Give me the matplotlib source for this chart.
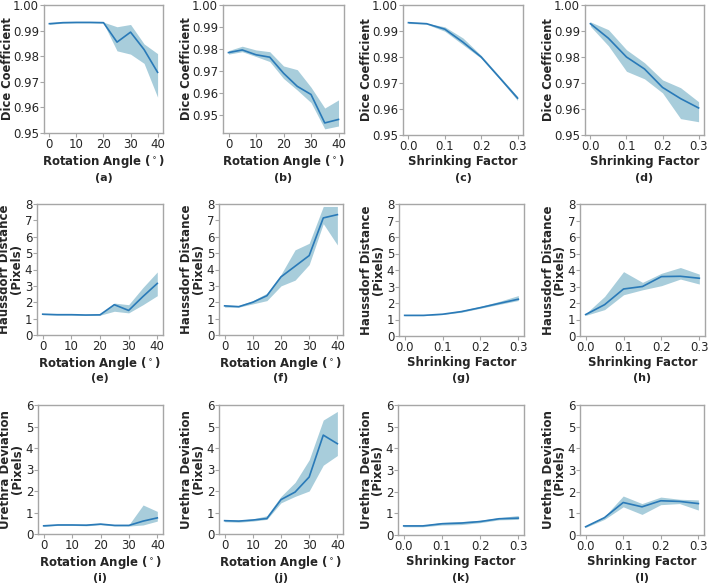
import matplotlib.pyplot as plt
import numpy as np

# ---- data ----
angles = [0, 5, 10, 15, 20, 25, 30, 35, 40]
shrink = [0.0, 0.05, 0.1, 0.15, 0.2, 0.25, 0.3]

# Dice coefficient
dice_rot_a = [0.9927, 0.9931, 0.9932, 0.9932, 0.9931, 0.9855, 0.9894, 0.9826, 0.9737]
dice_rot_a_lo = [0.9924, 0.9929, 0.9930, 0.9930, 0.9929, 0.9821, 0.9808, 0.9772, 0.9640]
dice_rot_a_hi = [0.9931, 0.9933, 0.9934, 0.9934, 0.9933, 0.9915, 0.9924, 0.9848, 0.9810]

dice_rot_b = [0.9783, 0.9795, 0.9773, 0.9762, 0.9689, 0.9629, 0.9592, 0.9462, 0.9478]
dice_rot_b_lo = [0.9776, 0.9787, 0.9765, 0.9742, 0.9665, 0.9612, 0.9555, 0.9435, 0.9448]
dice_rot_b_hi = [0.9792, 0.9812, 0.9795, 0.9787, 0.9722, 0.9705, 0.9625, 0.9530, 0.9567]

dice_shr_c = [0.9932, 0.9928, 0.9907, 0.9857, 0.9800, 0.9721, 0.9642]
dice_shr_c_lo = [0.9929, 0.9926, 0.9899, 0.9847, 0.9795, 0.9717, 0.9633]
dice_shr_c_hi = [0.9934, 0.9930, 0.9916, 0.9873, 0.9806, 0.9727, 0.9648]

dice_shr_d = [0.9928, 0.9872, 0.9800, 0.9754, 0.9683, 0.9640, 0.9604]
dice_shr_d_lo = [0.9918, 0.9843, 0.9745, 0.9716, 0.9662, 0.9563, 0.9551]
dice_shr_d_hi = [0.9935, 0.9905, 0.9828, 0.9778, 0.9712, 0.9682, 0.9628]

# Haussdorf distance
hd_rot_e = [1.27, 1.24, 1.24, 1.22, 1.23, 1.85, 1.50, 2.35, 3.15]
hd_rot_e_lo = [1.24, 1.22, 1.22, 1.20, 1.21, 1.45, 1.35, 1.85, 2.40]
hd_rot_e_hi = [1.30, 1.27, 1.26, 1.25, 1.25, 1.95, 1.85, 2.90, 3.85]

hd_rot_f = [1.78, 1.73, 2.00, 2.40, 3.55, 4.20, 4.85, 7.15, 7.35]
hd_rot_f_lo = [1.70, 1.70, 1.90, 2.10, 3.00, 3.35, 4.30, 6.80, 5.50]
hd_rot_f_hi = [1.82, 1.80, 2.10, 2.55, 3.70, 5.20, 5.60, 7.85, 7.85]

hd_shr_g = [1.25, 1.25, 1.32, 1.48, 1.72, 1.98, 2.23]
hd_shr_g_lo = [1.23, 1.23, 1.30, 1.44, 1.68, 1.92, 2.15]
hd_shr_g_hi = [1.27, 1.27, 1.35, 1.55, 1.80, 2.10, 2.45]

hd_shr_h = [1.30, 1.90, 2.85, 3.00, 3.60, 3.62, 3.50]
hd_shr_h_lo = [1.25, 1.60, 2.50, 2.80, 3.05, 3.45, 3.15]
hd_shr_h_hi = [1.35, 2.40, 3.90, 3.25, 3.80, 4.15, 3.75]

# Urethra deviation
ud_rot_i = [0.38, 0.42, 0.42, 0.41, 0.46, 0.40, 0.40, 0.60, 0.75]
ud_rot_i_lo = [0.35, 0.40, 0.40, 0.38, 0.43, 0.37, 0.37, 0.42, 0.60]
ud_rot_i_hi = [0.42, 0.45, 0.45, 0.45, 0.50, 0.43, 0.43, 1.35, 1.05]

ud_rot_j = [0.62, 0.60, 0.65, 0.72, 1.60, 1.95, 2.65, 4.60, 4.20]
ud_rot_j_lo = [0.57, 0.55, 0.60, 0.68, 1.45, 1.75, 2.00, 3.20, 3.65]
ud_rot_j_hi = [0.67, 0.65, 0.70, 0.85, 1.75, 2.40, 3.45, 5.30, 5.70]

ud_shr_k = [0.42, 0.42, 0.52, 0.55, 0.62, 0.75, 0.78]
ud_shr_k_lo = [0.38, 0.38, 0.46, 0.48, 0.57, 0.70, 0.72]
ud_shr_k_hi = [0.45, 0.45, 0.58, 0.62, 0.68, 0.80, 0.90]

ud_shr_l = [0.38, 0.80, 1.50, 1.30, 1.58, 1.55, 1.45]
ud_shr_l_lo = [0.35, 0.72, 1.30, 0.95, 1.40, 1.45, 1.15]
ud_shr_l_hi = [0.42, 0.85, 1.80, 1.45, 1.75, 1.65, 1.62]

captions = ['(a)', '(b)', '(c)', '(d)', '(e)', '(f)',
            '(g)', '(h)', '(i)', '(j)', '(k)', '(l)']

panels = [
    (angles, dice_rot_a, dice_rot_a_lo, dice_rot_a_hi),
    (angles, dice_rot_b, dice_rot_b_lo, dice_rot_b_hi),
    (shrink, dice_shr_c, dice_shr_c_lo, dice_shr_c_hi),
    (shrink, dice_shr_d, dice_shr_d_lo, dice_shr_d_hi),
    (angles, hd_rot_e, hd_rot_e_lo, hd_rot_e_hi),
    (angles, hd_rot_f, hd_rot_f_lo, hd_rot_f_hi),
    (shrink, hd_shr_g, hd_shr_g_lo, hd_shr_g_hi),
    (shrink, hd_shr_h, hd_shr_h_lo, hd_shr_h_hi),
    (angles, ud_rot_i, ud_rot_i_lo, ud_rot_i_hi),
    (angles, ud_rot_j, ud_rot_j_lo, ud_rot_j_hi),
    (shrink, ud_shr_k, ud_shr_k_lo, ud_shr_k_hi),
    (shrink, ud_shr_l, ud_shr_l_lo, ud_shr_l_hi),
]

# axes boxes in pixels: left, right, top, bottom
W, H = 709, 584
boxes = [
    (44, 163, 5, 133), (223, 344, 5, 133), (403, 523, 5, 135), (585, 704, 5, 135),
    (37, 163, 204, 335), (219, 343, 204, 335), (399, 524, 204, 336), (580, 705, 204, 336),
    (38, 163, 405, 534), (219, 343, 405, 534), (398, 524, 405, 535), (580, 704, 405, 535),
]
caption_y = [178, 378, 578]
ylabel_gap = [30.5, 14, 14]   # px from left spine to right edge of y label

line_color = '#2a7ab8'
band_color = '#a8cddb'
text_color = '#262626'
spine_color = '#a6a6a6'

plt.rcParams['font.family'] = 'DejaVu Sans'
fig = plt.figure(figsize=(W / 100, H / 100), dpi=100)

lab_kw = dict(fontsize=8.5, fontweight='bold', color=text_color)

for i, (x, y, lo, hi) in enumerate(panels):
    l, r, t, b = boxes[i]
    ax = fig.add_axes([l / W, 1 - b / H, (r - l) / W, (b - t) / H])
    ax.fill_between(x, lo, hi, color=band_color, linewidth=0)
    ax.plot(x, y, color=line_color, linewidth=1.2)

    row, col = divmod(i, 4)
    if col < 2:
        ax.set_xticks([0, 10, 20, 30, 40])
        ax.set_xlabel(r'Rotation Angle ($^\circ$)', labelpad=1.5, **lab_kw)
    else:
        ax.set_xticks([0.0, 0.1, 0.2, 0.3])
        ax.set_xticklabels(['0.0', '0.1', '0.2', '0.3'])
        ax.set_xlabel('Shrinking Factor', labelpad=1.5, **lab_kw)

    if row == 0:
        ax.set_ylabel('Dice Coefficient', fontsize=8.3, fontweight='bold', color=text_color)
        if i == 1:
            ax.set_ylim(top=1.0)
        else:
            ax.set_ylim(0.95, 1.0)
        ax.set_yticks([0.95, 0.96, 0.97, 0.98, 0.99, 1.00])
        ax.set_yticklabels(['0.95', '0.96', '0.97', '0.98', '0.99', '1.00'])
    elif row == 1:
        ax.set_ylabel('Haussdorf Distance\n(Pixels)', linespacing=0.85, **lab_kw)
        ax.set_ylim(0, 8)
        ax.set_yticks(range(0, 9))
    else:
        ax.set_ylabel('Urethra Deviation\n(Pixels)', linespacing=0.85, **lab_kw)
        ax.set_ylim(0, 6)
        ax.set_yticks(range(0, 7))
    ax.yaxis.set_label_coords(-ylabel_gap[row] / (r - l), 0.5)

    ax.tick_params(labelsize=8.5, colors=text_color, length=3, width=0.8, pad=0.5)
    ax.tick_params(color=spine_color)
    for s in ax.spines.values():
        s.set_color(spine_color)
        s.set_linewidth(1.0)

    fig.text((l + r) / 2 / W, 1 - caption_y[row] / H, captions[i],
             ha='center', va='center', fontsize=8, fontweight='bold', color=text_color)

fig.savefig('out.png', dpi=100)
